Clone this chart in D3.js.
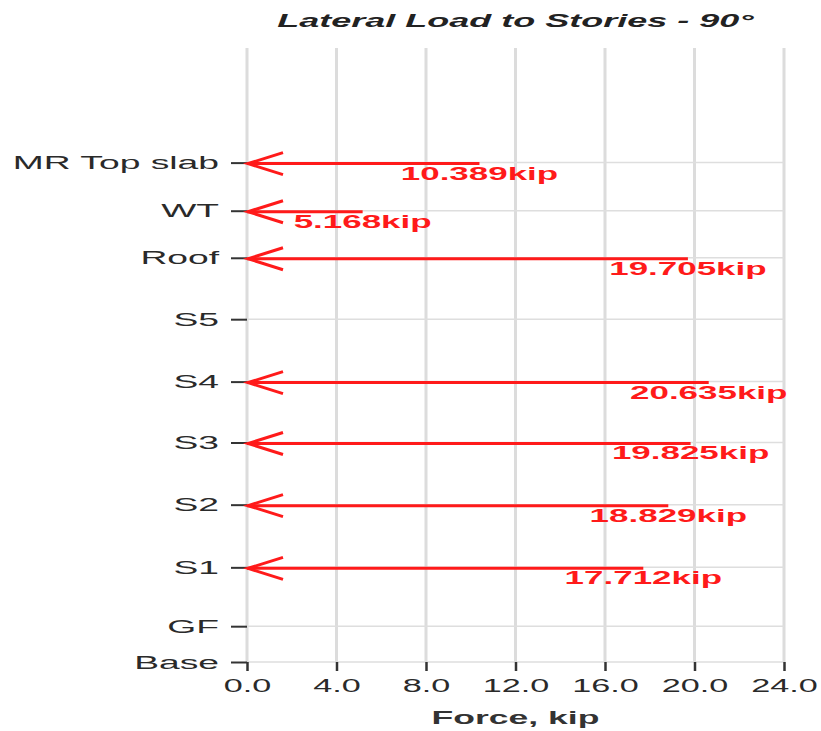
<!DOCTYPE html>
<html>
<head>
<meta charset="utf-8">
<script src="https://cdn.jsdelivr.net/npm/d3@7"></script>
<style>
  body { margin: 0; background: #fff; }
  svg { display: block; }
  text { font-family: "Liberation Sans", Arial, sans-serif; }
</style>
</head>
<body>
<svg id="chart" width="821" height="731"></svg>
<script>
// ---- data ----
const stories = ["Base", "GF", "S1", "S2", "S3", "S4", "S5", "Roof", "WT", "MR Top slab"];
const elevations = [0, 7, 18.5, 30.75, 42.9, 54.8, 67, 79, 88.2, 97.6];
const forces = [null, null, 17.712, 18.829, 19.825, 20.635, null, 19.705, 5.168, 10.389];
const xTicks = [0, 4, 8, 12, 16, 20, 24];
const title = "Lateral Load to Stories - 90°";
const xTitle = "Force, kip";

(function () {
// ---- layout ----
const svg = d3.select("#chart");
const mLeft = 247, mRight = 784, mTop = 48, mBottom = 662;
const x = d3.scaleLinear().domain([0, 24]).range([mLeft, mRight]);
const y = d3.scaleLinear().domain([0, 120]).range([mBottom, mTop]);
const red = "#ff1a1a";

function stretchText(sel, sx) {
  sel.each(function () {
    const t = d3.select(this);
    const tx = +t.attr("x") || 0;
    t.attr("x", tx / sx).attr("transform", `scale(${sx},1)`);
  });
}

// vertical grid
svg.append("g").selectAll("line").data(xTicks).join("line")
  .attr("x1", d => x(d)).attr("x2", d => x(d))
  .attr("y1", mTop).attr("y2", mBottom)
  .attr("stroke", "#dcdcdc").attr("stroke-width", 3);

// horizontal grid
svg.append("g").selectAll("line").data(elevations).join("line")
  .attr("x1", mLeft).attr("x2", mRight)
  .attr("y1", d => y(d)).attr("y2", d => y(d))
  .attr("stroke", "#dedede").attr("stroke-width", 1.5);

// x axis
const xAxis = svg.append("g").attr("transform", `translate(0,${mBottom})`)
  .call(d3.axisBottom(x).tickValues(xTicks).tickFormat(d3.format(".1f")).tickSize(9).tickPadding(8));
xAxis.select(".domain").remove();
xAxis.selectAll(".tick line").attr("stroke", "#333").attr("stroke-width", 2.5);
xAxis.selectAll(".tick text").attr("font-size", 19).attr("fill", "#2a2a2a");
stretchText(xAxis.selectAll(".tick text"), 1.8);

// y axis
const yAxis = svg.append("g").attr("transform", `translate(${mLeft},0)`)
  .call(d3.axisLeft(y).tickValues(elevations).tickFormat((d, i) => stories[i]).tickSize(16).tickPadding(12));
yAxis.select(".domain").remove();
yAxis.selectAll(".tick line").attr("stroke", "#333").attr("stroke-width", 2);
yAxis.selectAll(".tick text").attr("font-size", 19).attr("fill", "#2a2a2a");
stretchText(yAxis.selectAll(".tick text"), 1.96);

// arrows
const data = stories.map((s, i) => ({ s, e: elevations[i], f: forces[i] })).filter(d => d.f != null);
const ag = svg.append("g");
ag.selectAll("line.shaft").data(data).join("line").attr("class", "shaft")
  .attr("x1", x(0)).attr("x2", d => x(d.f))
  .attr("y1", d => y(d.e) + 1).attr("y2", d => y(d.e) + 1)
  .attr("stroke", red).attr("stroke-width", 3);
ag.selectAll("path.head").data(data).join("path").attr("class", "head")
  .attr("d", d => {
    const px = x(0) + 1, py = y(d.e) + 1;
    return `M${px + 35},${py - 11} L${px},${py} L${px + 35},${py + 11}`;
  })
  .attr("fill", "none").attr("stroke", red).attr("stroke-width", 3);

// labels
const lg = svg.append("g");
lg.selectAll("g").data(data).join("g")
  .attr("transform", d => `translate(${x(d.f)},${y(d.e) + 17})`)
  .append("text")
  .attr("text-anchor", "middle")
  .attr("font-size", 19).attr("font-weight", "bold")
  .attr("fill", red)
  .text(d => d.f.toFixed(3) + "kip")
  .attr("transform", "scale(1.84,1)");

// title
svg.append("g").attr("transform", `translate(${(mLeft + mRight) / 2},27)`)
  .append("text").attr("text-anchor", "middle")
  .attr("font-size", 18).attr("font-weight", "bold").attr("font-style", "italic")
  .attr("fill", "#222").text(title)
  .attr("transform", "scale(2.0,1)");

// x title
svg.append("g").attr("transform", `translate(${(mLeft + mRight) / 2},724)`)
  .append("text").attr("text-anchor", "middle")
  .attr("font-size", 19).attr("font-weight", "bold")
  .attr("fill", "#333").text(xTitle)
  .attr("transform", "scale(1.87,1)");
})();
</script>
</body>
</html>
